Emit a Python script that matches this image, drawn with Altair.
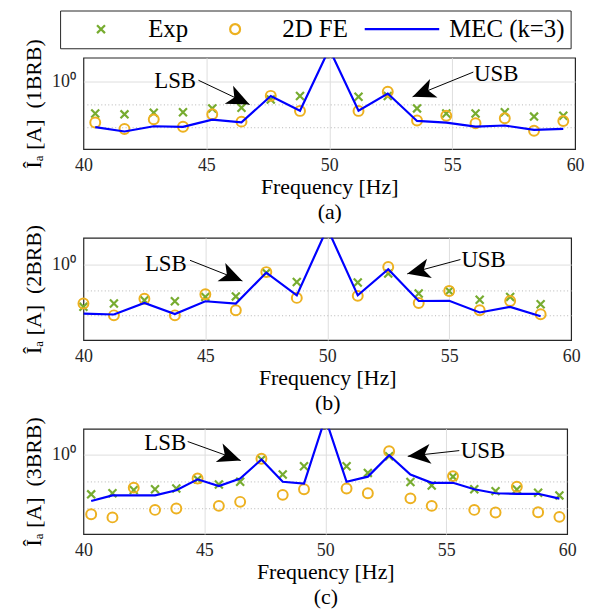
import altair as alt
import pandas as pd

# ---------------- data ----------------
SERIES = ["Exp", "2D FE", "MEC (k=3)"]
SERIES_COLORS = ["#77AC30", "#EDB120", "#0000FF"]

A_FREQ = [40.48, 41.67, 42.86, 44.05, 45.24, 46.43, 47.62, 48.81, 50.0,
          51.19, 52.38, 53.57, 54.76, 55.95, 57.14, 58.33, 59.52]
A_EXP = [0.0389, 0.0355, 0.0417, 0.0437, 0.0646, 0.0692, 0.158, 0.224, None,
         0.209, 0.224, 0.0646, 0.0389, 0.0389, 0.0437, 0.0282, 0.0309]
A_FE = [0.0155, 0.00813, 0.0214, 0.0102, 0.0355, 0.0170, 0.229, 0.0501, None,
        0.0501, 0.347, 0.0191, 0.0309, 0.0145, 0.0240, 0.00676, 0.0182]
A_MEC = [0.00977, 0.00631, 0.0107, 0.0100, 0.0209, 0.0158, 0.224, 0.0513, 26.3,
         0.0513, 0.288, 0.0182, 0.0155, 0.0102, 0.0115, 0.00741, 0.00813]

B_FREQ = [40.0, 41.25, 42.5, 43.75, 45.0, 46.25, 47.5, 48.75, 50.0,
          51.25, 52.5, 53.75, 55.0, 56.25, 57.5, 58.75]
B_EXP = [0.0219, 0.0295, 0.0398, 0.0363, 0.0537, 0.0562, 0.468, 0.204, None,
         0.195, 0.437, 0.0724, 0.0912, 0.0417, 0.0537, 0.0275]
B_FE = [0.0295, 0.0102, 0.0457, 0.0102, 0.0676, 0.0162, 0.501, 0.049, None,
        0.0589, 0.794, 0.0309, 0.0912, 0.0162, 0.0372, 0.0112]
B_MEC = [0.0120, 0.0110, 0.0309, 0.0115, 0.0363, 0.0295, 0.479, 0.0617, 26.3,
         0.0617, 0.646, 0.0372, 0.038, 0.0132, 0.0219, 0.00933]

C_FREQ = [40.32, 41.20, 42.08, 42.96, 43.84, 44.72, 45.60, 46.48, 47.36, 48.24,
          49.12, 50.0, 50.88, 51.76, 52.64, 53.52, 54.40, 55.28, 56.16, 57.04,
          57.92, 58.80, 59.68]
C_EXP = [0.0339, 0.0372, 0.049, 0.0525, 0.0562, 0.123, 0.0794, 0.1, 0.676, 0.186,
         0.380, None, 0.380, 0.214, 0.891, 0.0977, 0.0724, 0.155, 0.0525, 0.0447,
         0.0513, 0.0389, 0.0309]
C_FE = [0.00617, 0.00468, 0.0603, 0.00891, 0.01, 0.132, 0.0126, 0.0178, 0.724, 0.0324,
        0.0525, None, 0.0562, 0.0372, 1.38, 0.024, 0.0126, 0.162, 0.00891, 0.00708,
        0.0646, 0.00724, 0.0049]
C_MEC = [0.0191, 0.0309, 0.0309, 0.0309, 0.0479, 0.123, 0.0692, 0.132, 0.676, 0.1,
         0.0851, 24.0, 0.1, 0.155, 0.977, 0.186, 0.0912, 0.0912, 0.0525, 0.0372,
         0.0355, 0.0355, 0.0234]

# annotations: label, text pos, line start, arrow tip, arrow angle
ANN_LABELS = ["LSB", "USB"]
A_ANN_TEXT_X = [43.73, 56.79]
A_ANN_TEXT_Y = [1.0, 2.14]
A_ANN_START_X = [44.68, 55.86]
A_ANN_START_Y = [1.10, 2.51]
A_ANN_TIP_X = [46.76, 53.39]
A_ANN_TIP_Y = [0.0955, 0.209]
A_ANN_ANGLE = [115, 248]

B_ANN_TEXT_X = [43.38, 56.41]
B_ANN_TEXT_Y = [1.05, 1.43]
B_ANN_START_X = [44.37, 55.46]
B_ANN_START_Y = [1.45, 1.55]
B_ANN_TIP_X = [46.52, 53.28]
B_ANN_TIP_Y = [0.224, 0.427]
B_ANN_ANGLE = [113, 256]

C_ANN_TEXT_X = [43.38, 56.52]
C_ANN_TEXT_Y = [2.75, 1.45]
C_ANN_START_X = [44.31, 55.54]
C_ANN_START_Y = [3.16, 1.45]
C_ANN_TIP_X = [46.5, 53.41]
C_ANN_TIP_Y = [0.617, 0.891]
C_ANN_ANGLE = [110, 264]

X_TICKS = [40, 45, 50, 55, 60]
Y_GRID = [0.01, 0.1, 1]

# ---------------- styling ----------------
FONT = "Liberation Serif"
XPATH = "M-1,-1L1,1M-1,1L1,-1"
HEAD = "M0,0L1,2.3L0,1.7L-1,2.3Z"
# legend tokens (unit = 10 px)
LEG_X = "M-0.4,-0.4L0.4,0.4M-0.4,0.4L0.4,-0.4"
LEG_O = ("M0.5,0C0.5,0.276,0.276,0.5,0,0.5C-0.276,0.5,-0.5,0.276,-0.5,0"
         "C-0.5,-0.276,-0.276,-0.5,0,-0.5C0.276,-0.5,0.5,-0.276,0.5,0Z")
LEG_L = "M-3.75,0L3.75,0"
NBSP = "\u00a0"


def panel(freq, exp, fe, mec, ann, ylab, cap, w, h, ydom, legend=False):
    df = pd.DataFrame({"freq": freq, "exp": exp, "fe": fe, "mec": mec})
    tx, ty, sx, sy, px, py, ang = ann
    adf = pd.DataFrame({"label": ANN_LABELS, "tx": tx, "ty": ty, "sx": sx,
                        "sy": sy, "px": px, "py": py, "angle": ang})

    xs = alt.Scale(domain=[40, 60], nice=False, zero=False)
    ys = alt.Scale(type="log", domain=ydom, nice=False)
    xax = alt.Axis(values=X_TICKS, title=["Frequency [Hz]", cap], titleFontSize=22,
                   titleFontWeight="normal", titleColor="black", titlePadding=2,
                   titleLineHeight=25, labelFontSize=18, labelColor="#262626",
                   labelPadding=8, ticks=False, tickSize=0, domain=False,
                   labelFlush=False, gridColor="#dedede", gridWidth=1,
                   gridOpacity={"condition": {"test": "datum.value == 40 || datum.value == 60",
                                              "value": 0}, "value": 1})
    yax = alt.Axis(values=Y_GRID, labelExpr="datum.value == 1 ? '10⁰' : ''",
                   title=ylab, titleFontSize=22, titleFontWeight="normal",
                   titleColor="black", titlePadding=6, labelFontSize=18,
                   labelColor="#262626", labelPadding=8, ticks=False, tickSize=0,
                   domain=False, gridWidth=1,
                   gridColor={"condition": {"test": "datum.value < 0.5", "value": "#b5b5b5"},
                              "value": "#dedede"},
                   gridDash={"condition": {"test": "datum.value < 0.5", "value": [1, 2.5]},
                             "value": []})

    base = alt.Chart(df)
    exp_l = base.transform_filter("isValid(datum.exp)").mark_point(
        shape=XPATH, filled=False, size=64, strokeWidth=2.2, color=SERIES_COLORS[0], opacity=1
    ).encode(x=alt.X("freq:Q", scale=xs, axis=xax), y=alt.Y("exp:Q", scale=ys, axis=yax))
    fe_l = base.transform_filter("isValid(datum.fe)").mark_point(
        shape="circle", filled=False, size=100, strokeWidth=2, color=SERIES_COLORS[1], opacity=1
    ).encode(x="freq:Q", y="fe:Q")
    mec_l = base.mark_line(color=SERIES_COLORS[2], strokeWidth=2.2, clip=True).encode(
        x="freq:Q", y="mec:Q")

    abase = alt.Chart(adf)
    rules = abase.mark_rule(color="black", strokeWidth=1).encode(
        x="sx:Q", y="sy:Q", x2="px:Q", y2="py:Q")
    heads = abase.mark_point(shape=HEAD, filled=True, color="black", size=400,
                             strokeWidth=0, opacity=1).encode(
        x="px:Q", y="py:Q", angle=alt.Angle("angle:Q", scale=None))
    texts = abase.mark_text(fontSize=23, color="black", align="center",
                            baseline="middle").encode(x="tx:Q", y="ty:Q", text="label:N")

    layers = [exp_l, fe_l, mec_l, rules, heads, texts]
    if legend:
        ldf = pd.DataFrame({"series": SERIES})
        lg = alt.Legend(title=None, orient="none", legendX=-23.5, legendY=-47.5,
                        direction="horizontal", columns=3, symbolSize=400,
                        symbolStrokeWidth=2.2, symbolOpacity=1, labelFontSize=25,
                        labelColor="black", symbolOffset=22.7, labelOffset=35,
                        columnPadding=12, padding=6, strokeColor="#262626",
                        fillColor="white", labelLimit=300)
        leg = alt.Chart(ldf).transform_filter("datum.series == 'none'").mark_point(
            filled=False, size=400).encode(
            color=alt.Color("series:N", scale=alt.Scale(domain=SERIES, range=SERIES_COLORS),
                            legend=lg),
            shape=alt.Shape("series:N", scale=alt.Scale(domain=SERIES,
                                                        range=[LEG_X, LEG_O, LEG_L]),
                            legend=lg))
        layers.append(leg)
    return alt.layer(*layers).properties(width=w, height=h)


pa = panel(A_FREQ, A_EXP, A_FE, A_MEC,
           (A_ANN_TEXT_X, A_ANN_TEXT_Y, A_ANN_START_X, A_ANN_START_Y, A_ANN_TIP_X,
            A_ANN_TIP_Y, A_ANN_ANGLE),
           f"Îₐ [A]{NBSP}{NBSP}(1BRB)", "(a)", 495, 92, [0.00107, 10.7], legend=True)
pb = panel(B_FREQ, B_EXP, B_FE, B_MEC,
           (B_ANN_TEXT_X, B_ANN_TEXT_Y, B_ANN_START_X, B_ANN_START_Y, B_ANN_TIP_X,
            B_ANN_TIP_Y, B_ANN_ANGLE),
           f"Îₐ [A]{NBSP}{NBSP}(2BRB)", "(b)", 491, 103, [0.0011, 11.0])
pc = panel(C_FREQ, C_EXP, C_FE, C_MEC,
           (C_ANN_TEXT_X, C_ANN_TEXT_Y, C_ANN_START_X, C_ANN_START_Y, C_ANN_TIP_X,
            C_ANN_TIP_Y, C_ANN_ANGLE),
           f"Îₐ [A]{NBSP}{NBSP}(3BRB)", "(c)", 487, 106, [0.00112, 9.44])

chart = alt.vconcat(pa, pb, pc, spacing=89.3, bounds="flush").properties(
    padding={"left": 22, "top": 8, "right": 4, "bottom": 4}
).configure(font=FONT).configure_view(stroke="#262626", strokeWidth=1.2)

chart.save("out.html", embed_options={"renderer": "svg", "actions": False})
